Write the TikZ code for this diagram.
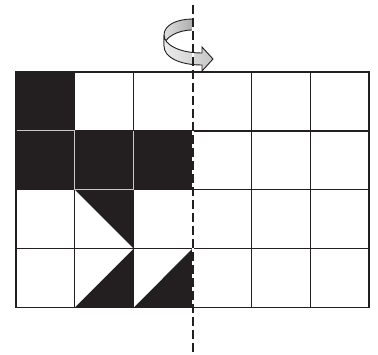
\documentclass[tikz,border=0pt]{standalone}
\usetikzlibrary{arrows.meta}
\definecolor{inkBlack}{RGB}{35,31,32}
\definecolor{seamGray}{RGB}{200,200,200}
\tikzset{
  gridline/.style={draw=inkBlack, line width=1.3pt},
  seamline/.style={draw=seamGray, line width=1pt},
  cellfill/.style={fill=inkBlack},
  axisunder/.style={draw=white, line width=2pt},
  axisline/.style={draw=inkBlack, line width=2pt, dash pattern=on 9pt off 4pt},
  bandback/.style={draw=inkBlack, line width=0.9pt, line join=round, left color=gray!25, right color=gray!65},
  bandfront/.style={draw=inkBlack, line width=0.9pt, line join=miter, left color=gray!15, right color=gray!45}
}
\begin{document}
\begin{tikzpicture}[x=1pt, y=-1pt]
  \useasboundingbox (0,0) rectangle (378,355);
  % grid corners
  \coordinate (gridNW) at (16,72);
  \coordinate (gridSE) at (369,307.6);
  % black cells
  \fill[cellfill] (16,72) rectangle (74.8,130.9);
  \fill[cellfill] (16,130.9) rectangle (192.5,189.8);
  % half cells
  \fill[cellfill] (74.8,189.8) -- (133.7,189.8) -- (133.7,248.7) -- cycle;
  \fill[cellfill] (74.8,307.6) -- (133.7,307.6) -- (133.7,248.7) -- cycle;
  \fill[cellfill] (133.7,307.6) -- (192.5,307.6) -- (192.5,248.7) -- cycle;
  % grid
  \foreach \col in {1,...,5}
    \draw[gridline] (16+58.83*\col,72) -- (16+58.83*\col,307.6);
  \foreach \row in {1,...,3}
    \draw[gridline] (16,72+58.9*\row) -- (369,72+58.9*\row);
  \draw[gridline] (gridNW) rectangle (gridSE);
  % seams between black cells
  \draw[seamline] (16.7,130.9) -- (74.8,130.9);
  \draw[seamline] (74.8,130.9) -- (74.8,189.8) -- (133.7,189.8) -- (133.7,130.9);
  % rotation arrow
  \draw[bandback] (192.5,19) .. controls (177,19) and (164,25) .. (164,35)
    -- (164,46) .. controls (164,38) and (177,30) .. (192.5,30) -- cycle;
  \draw[bandfront] (164,35) .. controls (164,45) and (180,53) .. (202,53)
    -- (202,47) -- (213,59) -- (202,71) -- (202,65)
    .. controls (179,65) and (164,57) .. (164,46) -- cycle;
  % axis
  \draw[axisunder] (192.5,5) -- (192.5,355);
  \draw[axisline] (192.5,5) -- (192.5,355);
\end{tikzpicture}
\end{document}
